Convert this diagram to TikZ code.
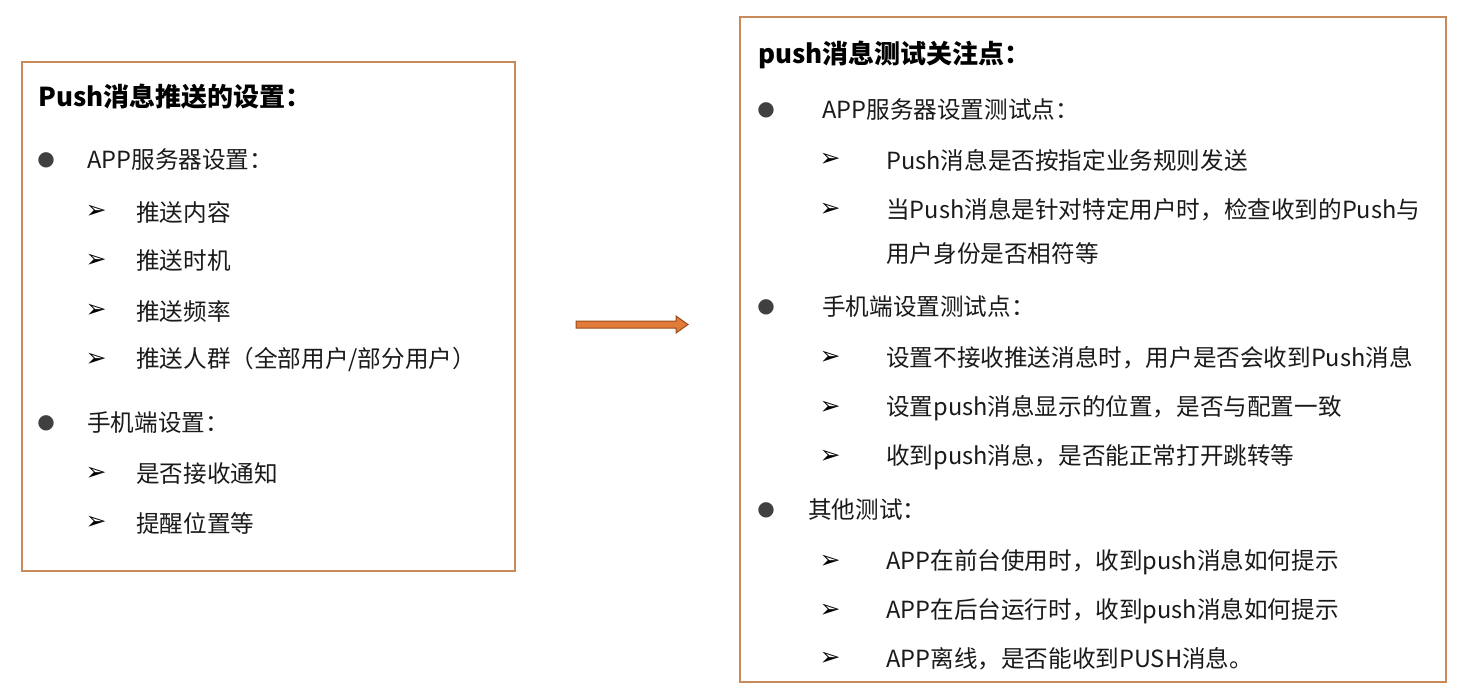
\documentclass[tikz,border=0pt]{standalone}
\usepackage{fontspec}
\setmainfont{Noto Sans CJK SC}
\newfontfamily\symfont{DejaVu Sans}
\usetikzlibrary{positioning,calc}
\definecolor{boxborder}{HTML}{C98A5B}
\definecolor{arrfill}{HTML}{E07B39}
\definecolor{arrline}{HTML}{9C4A1A}
\definecolor{txt}{HTML}{1A1A1A}
\begin{document}
\begin{tikzpicture}[x=1pt,y=-1pt,
  panel/.style={draw=boxborder,line width=2pt},
  lbl/.style={anchor=west,inner sep=0pt,text=txt,font=\fontsize{23.6}{28}\selectfont},
  ttl/.style={anchor=west,inner sep=0pt,text=black,font=\fontsize{26}{30}\selectfont\bfseries},
  dot/.style={anchor=center,inner sep=0pt,text=black!75,font=\symfont\fontsize{20}{24}\selectfont},
  arr/.style={anchor=center,inner sep=0pt,text=black,font=\symfont\fontsize{25}{28}\selectfont}]
\useasboundingbox[fill=white] (0,0) rectangle (1461,691);
% panels
\draw[panel] (22,62) rectangle (515,571);
\draw[panel] (740,17) rectangle (1446,682);
% left panel
\node[ttl] (lt) at (38,97) {Push消息推送的设置：};
\node[dot] (lb1) at (46,160) {●};
\node[lbl] (l1) at (87,160) {APP服务器设置：};
\node[arr] (la1) at (96,212) {➢};
\node[lbl] (l11) at (136,212) {推送内容};
\node[arr] (la2) at (96,261) {➢};
\node[lbl] (l12) at (136,261) {推送时机};
\node[arr] (la3) at (96,311) {➢};
\node[lbl] (l13) at (136,311) {推送频率};
\node[arr] (la4) at (96,360) {➢};
\node[lbl] (l14) at (136,360) {推送人群（全部用户/部分用户）};
\node[dot] (lb2) at (46,423) {●};
\node[lbl] (l2) at (87,423) {手机端设置：};
\node[arr] (la5) at (96,474) {➢};
\node[lbl] (l21) at (136,474) {是否接收通知};
\node[arr] (la6) at (96,523) {➢};
\node[lbl] (l22) at (136,523) {提醒位置等};
% right panel
\node[ttl] (rt) at (758,55) {push消息测试关注点：};
\node[dot] (rb1) at (766,110) {●};
\node[lbl] (r1) at (822,110) {APP服务器设置测试点：};
\node[arr] (ra1) at (830,160) {➢};
\node[lbl] (r11) at (886,160) {Push消息是否按指定业务规则发送};
\node[arr] (ra2) at (830,210) {➢};
\node[lbl] (r12) at (886,210) {当Push消息是针对特定用户时，检查收到的Push与};
\node[lbl] (r12b) at (886,254) {用户身份是否相符等};
\node[dot] (rb2) at (766,307) {●};
\node[lbl] (r2) at (822,307) {手机端设置测试点：};
\node[arr] (ra3) at (830,358) {➢};
\node[lbl] (r21) at (886,358) {设置不接收推送消息时，用户是否会收到Push消息};
\node[arr] (ra4) at (830,408) {➢};
\node[lbl] (r22) at (886,408) {设置push消息显示的位置，是否与配置一致};
\node[arr] (ra5) at (830,457) {➢};
\node[lbl] (r23) at (886,457) {收到push消息，是否能正常打开跳转等};
\node[dot] (rb3) at (766,510) {●};
\node[lbl] (r3) at (808,510) {其他测试：};
\node[arr] (ra6) at (830,562) {➢};
\node[lbl] (r31) at (886,562) {APP在前台使用时，收到push消息如何提示};
\node[arr] (ra7) at (830,611) {➢};
\node[lbl] (r32) at (886,611) {APP在后台运行时，收到push消息如何提示};
\node[arr] (ra8) at (830,659) {➢};
\node[lbl] (r33) at (886,659) {APP离线，是否能收到PUSH消息。};
% block arrow
\coordinate (as) at (576,324.5);
\coordinate (ae) at (688,324.5);
\draw[fill=arrfill,draw=arrline,line width=1pt,line join=miter]
  ($(as)+(0,-3.5)$) -- ($(ae)+(-12,-3.5)$) -- ($(ae)+(-12,-8.5)$) -- (ae)
  -- ($(ae)+(-12,8.5)$) -- ($(ae)+(-12,3.5)$) -- ($(as)+(0,3.5)$) -- cycle;
\end{tikzpicture}
\end{document}
